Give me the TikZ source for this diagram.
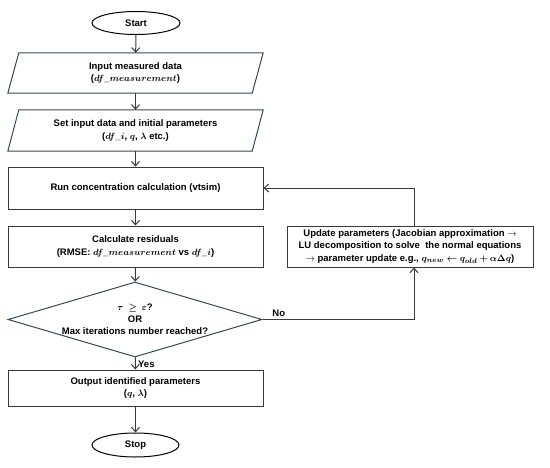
\documentclass[tikz,border=0pt]{standalone}
\usepackage{amsmath,bm}
\usepackage{fontspec}
\setmainfont{Liberation Sans}
\usetikzlibrary{shapes.geometric,arrows.meta,calc}
\definecolor{shapeblue}{HTML}{31495B}
\definecolor{boxgray}{HTML}{3A3A3A}
\definecolor{arrgray}{HTML}{3A3A3A}
\newcommand{\mv}[1]{\ensuremath{\bm{#1}}}
\begin{document}
\begin{tikzpicture}[x=1pt,y=-1pt,
  every node/.style={font=\bfseries\fontsize{9.5}{12.5}\selectfont, align=center, text=black},
  term/.style={ellipse, draw=black, line width=1pt, inner sep=0pt, minimum width=88pt, minimum height=23pt},
  iobox/.style={rectangle, draw=none, inner sep=0pt, minimum width=244pt},
  procbox/.style={rectangle, draw=boxgray, line width=1pt, inner sep=1pt},
  para/.style={draw=shapeblue, line width=1pt, line join=miter},
  arr/.style={draw=arrgray, line width=1pt, -{Straight Barb[length=4.5pt,width=8pt]}},
  lbl/.style={font=\bfseries\fontsize{9.5}{11}\selectfont}
]
\useasboundingbox (0,0) rectangle (550,467);

\node[term] (start) at (136,23) {Start};

\node[iobox, minimum height=40pt] (in1) at (135.5,73) {Input measured data\\(\mv{df\_measurement})};
\draw[para] ([xshift=5.5pt]in1.north west) -- ([xshift=5.5pt]in1.north east) -- ([xshift=-5.5pt]in1.south east) -- ([xshift=-5.5pt]in1.south west) -- cycle;

\node[iobox, minimum height=41pt] (in2) at (135.5,130.5) {Set input data and initial parameters\\(\mv{df\_i}, \mv{q}, \mv{\lambda} etc.)};
\draw[para] ([xshift=5.5pt]in2.north west) -- ([xshift=5.5pt]in2.north east) -- ([xshift=-5.5pt]in2.south east) -- ([xshift=-5.5pt]in2.south west) -- cycle;

\node[procbox, minimum width=255pt, minimum height=42pt] (run) at (135.5,188) {Run concentration calculation (vtsim)};
\node[procbox, minimum width=255pt, minimum height=41pt] (calc) at (135.5,246.5) {Calculate residuals\\(RMSE: \mv{df\_measurement} vs \mv{df\_i})};

\node[diamond, draw=shapeblue, line width=1pt, inner sep=0pt, minimum width=254pt, minimum height=75pt] (dec) at (135,319.5) {};
\node[font=\bfseries\fontsize{9.5}{12}\selectfont] (dectext) at (dec.center) {\mv{\tau\;\geq\;\varepsilon}?\\OR\\Max iterations number reached?};

\node[procbox, minimum width=255pt, minimum height=36pt] (out) at (135.5,388) {Output identified parameters\\(\mv{q}, \mv{\lambda})};
\node[term, minimum width=87pt, minimum height=24pt] (stop) at (135.5,445) {Stop};

\node[procbox, minimum width=246pt, minimum height=41pt] (upd) at (410,246.5) {Update parameters (Jacobian approximation $\rightarrow$\\LU decomposition to solve\ \ the normal equations\\$\rightarrow$ parameter update e.g., \mv{q_{new}\leftarrow q_{old}+\alpha\Delta q})};

\draw[arr] (start) -- (in1);
\draw[arr] (in1) -- (in2);
\draw[arr] (in2) -- (run);
\draw[arr] (run) -- (calc);
\draw[arr] (calc) -- (dec);
\draw[arr] (dec) -- node[lbl, right, pos=0.55, xshift=-1pt] {Yes} (out);
\draw[arr] (out) -- (stop);
\draw[arr] (dec.east) -- node[lbl, above, pos=0.04, anchor=south west, yshift=-1pt] {No} ($(dec.east -| upd.south)+(4pt,0)$) -- ([xshift=4pt]upd.south);
\draw[arr] ([xshift=4pt]upd.north) |- (run.east);
\end{tikzpicture}
\end{document}
